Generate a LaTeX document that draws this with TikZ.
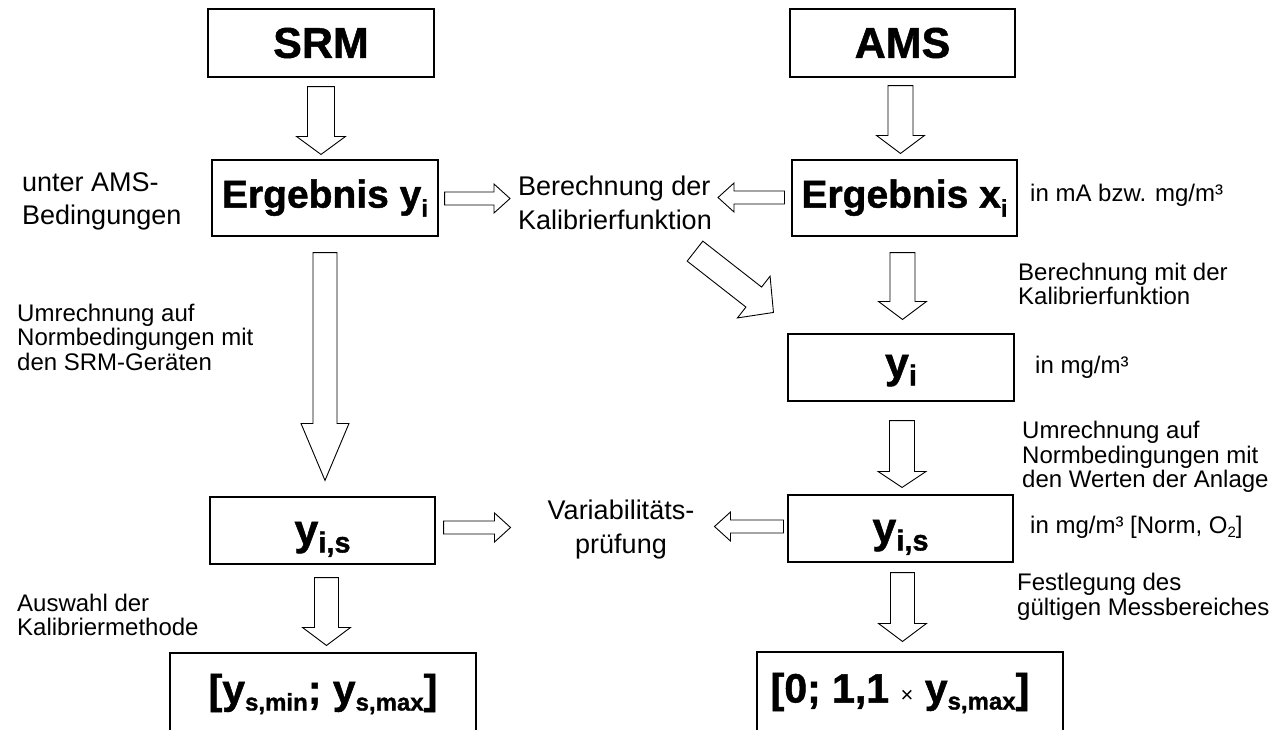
\documentclass[tikz,border=0pt]{standalone}
\usepackage{fontspec}
\setmainfont{Liberation Sans}
\newfontfamily\heavy{Liberation Sans}[BoldFeatures={FakeBold=1.2}]
\usetikzlibrary{calc}

% lowered subscript: size, drop, text
\newcommand{\bsub}[3]{\raisebox{-#2}{\fontsize{#1}{#1}\selectfont #3}}
% symbol set with its baseline a given distance below the node centre
\newcommand{\lowered}[2]{\raisebox{-#1}[0pt][0pt]{#2}}

% hollow block arrow between two points:
% [options]{start}{tip}{shaft half-width}{head half-width}{head length}
\newcommand{\blockarrow}[6][]{%
  \coordinate (ba-a) at #2;
  \coordinate (ba-b) at #3;
  \coordinate (ba-h) at ($(ba-b)!#6!(ba-a)$);
  \draw[blk,#1] ($(ba-a)!#4!90:(ba-b)$) -- ($(ba-h)!#4!90:(ba-b)$)
    -- ($(ba-h)!#5!90:(ba-b)$) -- (ba-b) -- ($(ba-h)!#5!-90:(ba-b)$)
    -- ($(ba-h)!#4!-90:(ba-b)$) -- ($(ba-a)!#4!-90:(ba-b)$) -- cycle;
}

\begin{document}
\begin{tikzpicture}[x=1pt,y=-1pt,
  box/.style={draw, line width=1.1pt, minimum width=225pt, minimum height=67pt,
    inner sep=0pt, font=\heavy\bfseries\fontsize{39}{40}\selectfont},
  bigtxt/.style={font=\heavy\bfseries\fontsize{43}{46}\selectfont},
  symtxt/.style={font=\heavy\bfseries\fontsize{43}{44}\selectfont},
  lbl/.style={anchor=west, align=left, inner sep=0pt, font=\fontsize{24}{24.5}\selectfont},
  biglbl/.style={anchor=west, align=left, inner sep=0pt, font=\fontsize{27}{33}\selectfont},
  mid/.style={inner sep=0pt, font=\fontsize{27}{34}\selectfont},
  blk/.style={draw, fill=white, line width=0.9pt, line join=miter}]

\fill[white] (0,0) rectangle (1285,729);
\useasboundingbox (0,0) rectangle (1285,729);

% ---- boxes ----
\node[box, bigtxt, minimum width=226pt, minimum height=68pt] (srm) at (321,43) {SRM};
\node[box, bigtxt, minimum height=68pt] (ams) at (902.5,43) {AMS};
\node[box, minimum width=226pt, minimum height=76pt] (ergl) at (325,198) {Ergebnis y\bsub{24}{9pt}{i}};
\node[box, minimum height=76pt] (ergr) at (904.5,198) {Ergebnis x\bsub{24}{9pt}{i}};
\node[box, symtxt, minimum width=226pt] (yi) at (901,367.5) {\lowered{10pt}{y\bsub{29}{8pt}{i}}};
\node[box, symtxt] (yisl) at (322.5,530.5) {\lowered{14pt}{y\bsub{29}{8pt}{i,s}}};
\node[box, symtxt] (yisr) at (900.5,528.5) {\lowered{14pt}{y\bsub{29}{8pt}{i,s}}};
\node[box, minimum width=306pt, minimum height=82pt, font=\heavy\bfseries\fontsize{41}{42}\selectfont] (rngl) at (323,694)
  {[y\bsub{24}{7pt}{s,min}; y\bsub{24}{7pt}{s,max}]};
\node[box, minimum width=306pt, minimum height=82pt, font=\heavy\bfseries\fontsize{41}{42}\selectfont] (rngr) at (910,693)
  {[0; 1,1 {\mdseries\fontsize{22}{22}\selectfont ×} y\bsub{24}{7pt}{s,max}]\hspace*{20pt}};

% ---- centre texts ----
\node[mid, align=left] (berech) at (615,203) {Berechnung der\\Kalibrierfunktion};
\node[mid, align=center] (variab) at (621,530) {Variabilitäts-\\prüfung};

% ---- side notes ----
\node[biglbl] (unter) at (22,201) {unter AMS-\\Bedingungen};
\node[lbl] (umrl) at (17,337) {Umrechnung auf\\Normbedingungen mit\\den SRM-Geräten};
\node[lbl] (ausw) at (17,615) {Auswahl der\\Kalibriermethode};
\node[lbl] (unit1) at (1030,195) {in mA bzw. mg/m³};
\node[lbl] (berr) at (1018,284) {Berechnung mit der\\Kalibrierfunktion};
\node[lbl] (unit2) at (1035,367) {in mg/m³};
\node[lbl] (umrr) at (1022,457) {Umrechnung auf\\Normbedingungen mit\\den Werten der Anlage};
\node[lbl] (unit3) at (1030,527) {in mg/m³ [Norm, O\bsub{15}{4pt}{2}]};
\node[lbl] (fest) at (1017,597) {Festlegung des\\gültigen Messbereiches};

% ---- vertical block arrows ----
\blockarrow{($(srm.south)+(0,9)$)}{($(srm.south |- ergl.north)+(0,-5)$)}{13.5pt}{24.5pt}{18pt}
\blockarrow{($(ams.south)+(-2,8)$)}{($(ams.south |- ergr.north)+(-2,-6)$)}{12.5pt}{24pt}{18pt}
\blockarrow{($(ergr.south)+(-2,16)$)}{($(ergr.south |- yi.north)+(-2,-14)$)}{12.5pt}{24pt}{18pt}
\blockarrow{($(yi.south)+(1,19)$)}{($(yi.south |- yisr.north)+(1,-7)$)}{12.5pt}{24pt}{16pt}
\blockarrow{($(ergl.south)+(0,16)$)}{($(ergl.south |- yisl.north)+(0,-16)$)}{12pt}{24pt}{57pt}
\blockarrow{($(yisl.south)+(4,13)$)}{($(yisl.south |- rngl.north)+(4,-7)$)}{12pt}{24pt}{18pt}
\blockarrow{($(yisr.south)+(2,10)$)}{($(yisr.south |- rngr.north)+(2,-10)$)}{12pt}{24pt}{18pt}

% ---- horizontal block arrows ----
\blockarrow{($(ergl.east)+(6,0.5)$)}{($(berech.west |- ergl.east)+(-8,0.5)$)}{6.5pt}{14.5pt}{16pt}
\blockarrow{($(ergr.west)+(-7,-0.5)$)}{($(berech.east |- ergr.west)+(6,-0.5)$)}{6.5pt}{14.5pt}{16pt}
\blockarrow{($(yisl.east)+(8,-3)$)}{($(variab.west |- yisl.east)+(-37,-3)$)}{6.5pt}{14.5pt}{16pt}
\blockarrow{($(yisr.west)+(-4,-2)$)}{($(variab.east |- yisr.west)+(20,-2)$)}{6.5pt}{14.5pt}{16pt}

% ---- diagonal block arrow ----
\blockarrow{($(berech.south)+(80,21)$)}{($(yi.north west)+(-14,-21)$)}{12.7pt}{26.5pt}{25pt}

\end{tikzpicture}
\end{document}
